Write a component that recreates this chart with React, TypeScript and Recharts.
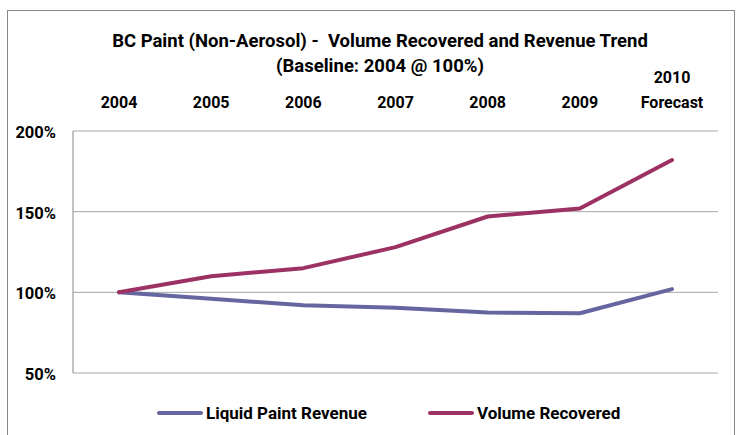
import React from 'react';
import { LineChart, Line, XAxis, YAxis, CartesianGrid, Customized } from 'recharts';

const categories = ['2004', '2005', '2006', '2007', '2008', '2009', '2010\nForecast'];
const liquidPaintRevenue = [100, 96, 92, 90.5, 87.5, 87, 102];
const volumeRecovered = [100, 110, 115, 128, 147, 152, 182];
const yTicks = [50, 100, 150, 200];
const titleLines = ['BC Paint (Non-Aerosol) -  Volume Recovered and Revenue Trend', '(Baseline: 2004 @ 100%)'];

const seriesInfo = [
  { key: 'revenue', name: 'Liquid Paint Revenue', color: '#6566A0' },
  { key: 'volume', name: 'Volume Recovered', color: '#9C3264' },
];

const data = categories.map((c, i) => ({
  category: c,
  revenue: liquidPaintRevenue[i],
  volume: volumeRecovered[i],
}));

const FONT = 'Roboto, "Liberation Sans", Arial, sans-serif';

const XTick = (props: any) => {
  const { x, y, payload } = props;
  const lines = String(payload.value).split('\n');
  return (
    <g>
      {lines.map((l, i) => (
        <text
          key={i}
          x={x}
          y={y - 23 - (lines.length - 1 - i) * 25}
          textAnchor="middle"
          fontFamily={FONT}
          fontWeight="bold"
          fontSize={16}
          fill="#000"
        >
          {l}
        </text>
      ))}
    </g>
  );
};

const YTick = (props: any) => {
  const { x, y, payload } = props;
  return (
    <text x={x} y={y + 7} textAnchor="end" fontFamily={FONT} fontWeight="bold" fontSize={16.5} fill="#000">
      {payload.value + '%'}
    </text>
  );
};

const Title = () => (
  <g>
    {titleLines.map((t, i) => (
      <text
        key={i}
        x={380}
        y={47 + i * 25}
        textAnchor="middle"
        fontFamily={FONT}
        fontWeight="bold"
        fontSize={18.5}
        fill="#000"
        style={{ whiteSpace: 'pre' }}
      >
        {t}
      </text>
    ))}
  </g>
);

const LegendBlock = () => (
  <div
    style={{
      position: 'absolute',
      left: 157,
      top: 403,
      display: 'flex',
      alignItems: 'center',
      fontFamily: FONT,
      fontWeight: 'bold',
      fontSize: 17,
      color: '#000',
      lineHeight: '20px',
    }}
  >
    {seriesInfo.map((s, i) => (
      <div key={s.key} style={{ display: 'flex', alignItems: 'center', marginRight: i === 0 ? 61 : 0 }}>
        <div style={{ width: 46, height: 4, background: s.color, borderRadius: 2, marginRight: 3 }} />
        <span>{s.name}</span>
      </div>
    ))}
  </div>
);

export default function App() {
  return (
    <div style={{ position: 'absolute', left: 0, top: 0, width: 739, height: 435, background: '#fff', overflow: 'hidden' }}>
      <div style={{ position: 'absolute', left: 7, top: 10, width: 726, height: 440, border: '1px solid #888' }} />
      <div style={{ position: 'absolute', left: 0, top: 0 }}>
        <LineChart width={739} height={435} data={data} margin={{ top: 91, right: 21, bottom: 62, left: 0 }}>
          <CartesianGrid vertical={false} stroke="#A6A6A6" strokeWidth={1} />
          <XAxis
            dataKey="category"
            orientation="top"
            height={40}
            axisLine={false}
            tickLine={false}
            tickSize={0}
            tickMargin={0}
            interval={0}
            padding={{ left: 46, right: 46 }}
            tick={<XTick />}
          />
          <YAxis
            domain={[50, 200]}
            ticks={yTicks}
            width={73}
            tickLine={false}
            tickSize={0}
            tickMargin={17}
            axisLine={{ stroke: '#888', strokeWidth: 1 }}
            tick={<YTick />}
          />
          {seriesInfo.map((s) => (
            <Line
              key={s.key}
              dataKey={s.key}
              name={s.name}
              stroke={s.color}
              strokeWidth={4}
              dot={false}
              activeDot={false}
              isAnimationActive={false}
              strokeLinecap="round"
              strokeLinejoin="round"
            />
          ))}
          <Customized component={<Title />} />
        </LineChart>
      </div>
      <LegendBlock />
    </div>
  );
}
